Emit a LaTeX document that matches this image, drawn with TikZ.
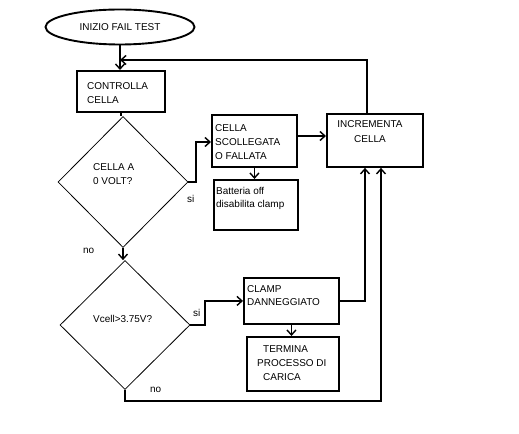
\documentclass[tikz,border=0pt]{standalone}
\usepackage{fontspec}
\setmainfont{Liberation Sans}
\usetikzlibrary{shapes.geometric,arrows.meta,calc}
\begin{document}
\begin{tikzpicture}[x=1bp,y=-1bp,
  box/.style={draw,line width=1.9bp,inner sep=0,anchor=north west},
  txt/.style={inner sep=0,anchor=north west,align=left,font=\fontsize{10}{14}\selectfont},
  ctxt/.style={inner sep=0,anchor=north,align=center,font=\fontsize{10}{15}\selectfont},
  lbl/.style={inner sep=0,anchor=base west,font=\fontsize{10}{14}\selectfont},
  dia/.style={draw,diamond,line width=0.8bp,inner sep=0,minimum width=130bp},
  conn/.style={line width=1.9bp},
  arr/.style={conn,-{Straight Barb[length=5bp,width=9bp,line width=1.4bp]}}]
\useasboundingbox (0,0) rectangle (519,434);

% start
\node[draw,ellipse,line width=1.9bp,minimum width=149bp,minimum height=35bp,inner sep=0,
  font=\fontsize{10}{14}\selectfont] (start) at (120,27) {INIZIO FAIL TEST};

% boxes
\node[box,minimum width=88bp,minimum height=41bp] (ctrl) at (76,70) {};
\node[txt] (ctrlt) at (87,82) {CONTROLLA\\CELLA};

\node[dia,minimum height=131bp] (d1) at (123,182) {};
\node[txt] (d1t) at (93,163) {CELLA A\\0 VOLT?};

\node[box,minimum width=85bp,minimum height=52bp] (scoll) at (211,114) {};
\node[txt] (scollt) at (215,124) {CELLA\\SCOLLEGATA\\O FALLATA};

\node[box,minimum width=84bp,minimum height=50bp] (batt) at (213,179) {};
\node[txt,font=\fontsize{10}{13.5}\selectfont] (battt) at (216,187) {Batteria off\\disabilita clamp};

\node[box,minimum width=96bp,minimum height=53bp] (incr) at (326,113) {};
\node[ctxt] (incrt) at (370,120) {INCREMENTA\\CELLA};

\node[dia,minimum height=129bp] (d2) at (125,325) {};
\node[txt] (d2t) at (93,315) {Vcell>3.75V?};

\node[box,minimum width=95bp,minimum height=46bp] (clamp) at (243,277) {};
\node[txt,font=\fontsize{10}{13}\selectfont] (clampt) at (247,285) {CLAMP\\DANNEGGIATO};

\node[box,minimum width=92bp,minimum height=54bp] (term) at (246,336) {};
\node[txt] (termt1) at (263,345) {TERMINA};
\node[txt] (termt2) at (257,359) {PROCESSO DI};
\node[txt] (termt3) at (263,373) {CARICA};

% labels
\node[lbl] (si1) at (187,203) {si};
\node[lbl] (no1) at (83,254) {no};
\node[lbl] (si2) at (193,316) {si};
\node[lbl] (no2) at (150,392) {no};

% connectors
\coordinate (j) at (120,60);
\draw[arr] (start.south) -- (start.south |- ctrl.north);
\draw[arr] ($(incr.north west)+(41,0)$) |- (j);
\draw[conn] (ctrl.south) -- (ctrl.south |- d1.north);
\draw[arr] (d1.east) -- ++(8,0) |- ($(scoll.north west)+(0,28)$);
\draw[arr] ($(scoll.north east)+(0,22)$) -- ($(incr.north west)+(0,23)$);
\draw[arr] (scoll.south) -- (scoll.south |- batt.north);
\draw[arr] (d1.south) -- (d1.south |- d2.north);
\draw[arr] (d2.east) -- ++(15,0) |- (clamp.west);
\draw[arr] (clamp.south) -- (clamp.south |- term.north);
\draw[arr] (clamp.east) -| ($(incr.south west)+(39,0)$);
\draw[arr] (d2.south) -- ++(0,11) -| ($(incr.south west)+(55,0)$);
\end{tikzpicture}
\end{document}
